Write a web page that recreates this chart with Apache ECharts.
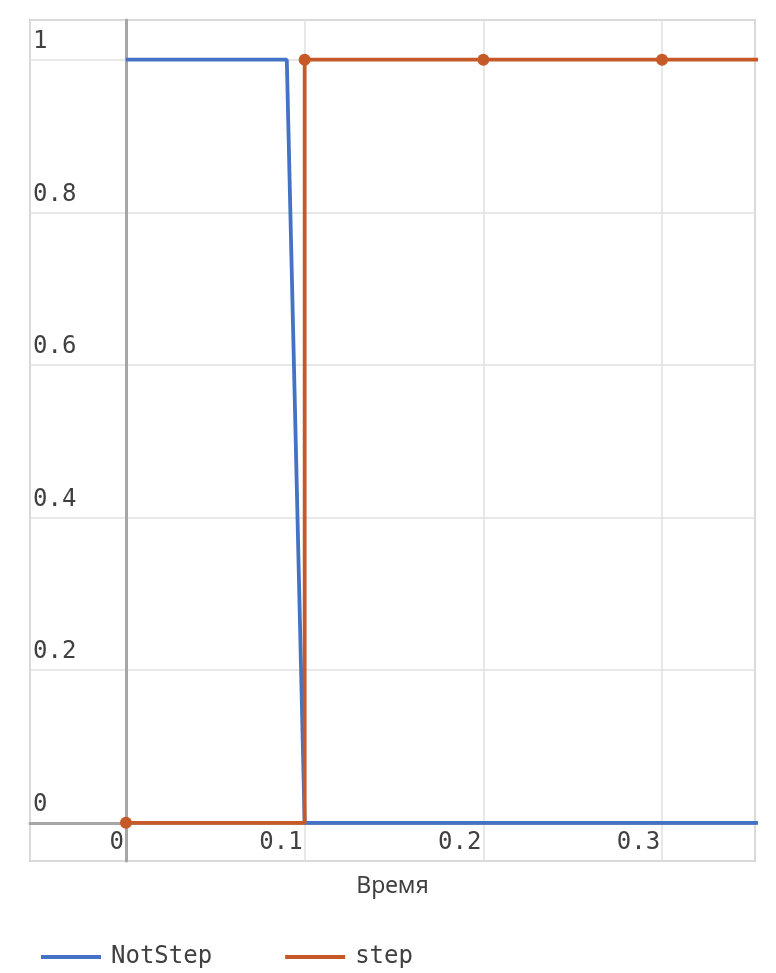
<!DOCTYPE html>
<html>
<head>
<meta charset="utf-8">
<script src="https://cdn.jsdelivr.net/npm/echarts@6/dist/echarts.min.js"></script>
<style>
html,body{margin:0;padding:0;background:#fff;}
#main{width:776px;height:973px;}
</style>
</head>
<body>
<div id="main"></div>
<script>
var notStepX = [0, 0.09, 0.1, 0.4];
var notStepY = [1, 1, 0, 0];
var stepX = [0, 0.1, 0.2, 0.3, 0.4];
var stepY = [0, 1, 1, 1, 1];
var seriesNames = ['NotStep', 'step'];
var xAxisName = 'Время';

function pairs(xs, ys) { return xs.map(function (x, i) { return [x, ys[i]]; }); }

var mono = 'DejaVu Sans Mono';
var chart = echarts.init(document.getElementById('main'), null, {renderer: 'canvas'});
chart.setOption({
  animation: false,
  backgroundColor: '#ffffff',
  grid: {left: 30, right: 21, top: 20, bottom: 112, show: true, borderColor: '#c8c8c8', borderWidth: 2, containLabel: false},
  legend: {
    left: 36, top: 940, itemWidth: 60, itemHeight: 4, itemGap: 73, icon: 'rect',
    data: seriesNames,
    formatter: function (n) { return '{a|' + n + '}'; },
    textStyle: {fontFamily: mono, fontSize: 24, color: '#404040', rich: {a: {fontFamily: mono, fontSize: 24, color: '#404040', padding: [0, 0, 0, 5]}}}
  },
  xAxis: {
    type: 'value', min: -0.0537, max: 0.352, splitNumber: 5,
    name: xAxisName, nameLocation: 'middle', nameGap: 14,
    nameTextStyle: {fontFamily: 'Noto Sans', fontSize: 23, color: '#404040'},
    axisLine: {show: true, onZero: true, lineStyle: {color: '#a6a6a6', width: 3}},
    axisTick: {show: false},
    axisLabel: {inside: true, showMinLabel: false, showMaxLabel: false, fontFamily: mono, fontSize: 24, color: '#404040', align: 'right', margin: 6, padding: [0, 2, 0, 0], lineHeight: 24},
    splitLine: {show: true, lineStyle: {color: '#e0e0e0', width: 1.5}}
  },
  yAxis: [{
    type: 'value', min: -0.05, max: 1.052, splitNumber: 5, position: 'left',
    axisLine: {show: false, onZero: false},
    axisTick: {show: false},
    axisLabel: {inside: true, showMinLabel: false, showMaxLabel: false, fontFamily: mono, fontSize: 24, color: '#404040', verticalAlign: 'bottom', margin: 3, padding: [0, 0, 6, 0], lineHeight: 24},
    splitLine: {show: true, lineStyle: {color: '#e0e0e0', width: 1.5}}
  }, {
    type: 'value', min: -0.05, max: 1.052, position: 'left',
    axisLine: {show: true, onZero: true, lineStyle: {color: '#a6a6a6', width: 3}},
    axisTick: {show: false}, axisLabel: {show: false}, splitLine: {show: false}
  }],
  series: [{
    name: seriesNames[0], type: 'line', data: pairs(notStepX, notStepY),
    showSymbol: false, symbol: 'none', clip: true,
    lineStyle: {color: '#4472c4', width: 3.8}, itemStyle: {color: '#4472c4'}
  }, {
    name: seriesNames[1], type: 'line', step: 'end', data: pairs(stepX, stepY),
    symbol: 'circle', symbolSize: 12, showSymbol: true, clip: true,
    lineStyle: {color: '#c55a28', width: 3.8}, itemStyle: {color: '#c55a28'}
  }]
});
</script>
</body>
</html>
